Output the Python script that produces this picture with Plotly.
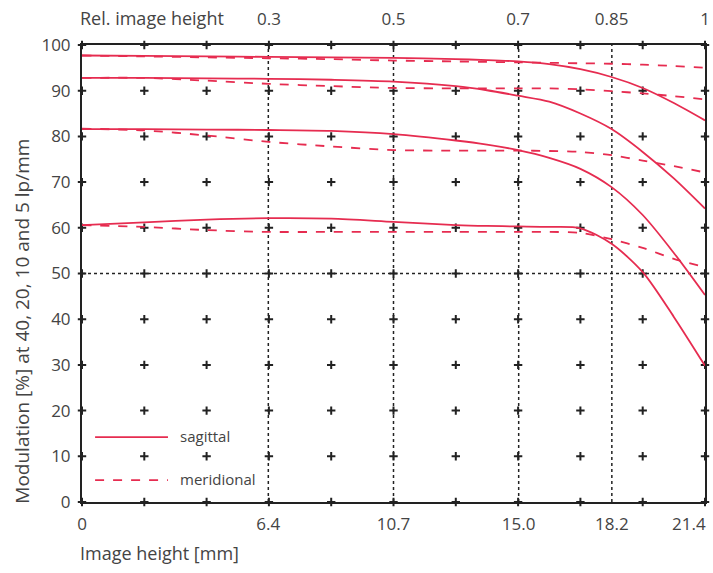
import plotly.graph_objects as go

# ---- data ----
image_height = [0, 2.14, 4.28, 6.42, 8.56, 10.7, 12.84, 13.91, 14.98, 16.05, 17.12, 18.19, 19.26, 20.33, 21.4]

sag_40 = [60.6, 61.2, 61.8, 62.1, 62.0, 61.3, 60.6, 60.4, 60.3, 60.2, 59.9, 56.5, 50.3, 40.5, 29.8]
mer_40 = [60.6, 60.2, 59.5, 59.1, 59.1, 59.1, 59.1, 59.1, 59.1, 59.1, 58.9, 57.5, 55.6, 53.2, 51.4]
sag_20 = [81.6, 81.6, 81.5, 81.4, 81.2, 80.5, 79.1, 78.2, 77.0, 75.3, 72.9, 68.9, 62.8, 54.5, 45.3]
mer_20 = [81.7, 81.3, 80.2, 78.8, 77.8, 77.0, 76.9, 76.9, 76.9, 76.8, 76.6, 75.9, 74.7, 73.5, 72.1]
sag_10 = [92.8, 92.8, 92.7, 92.6, 92.4, 92.0, 91.0, 90.1, 88.9, 87.6, 85.0, 81.6, 76.6, 70.8, 64.2]
mer_10 = [92.8, 92.8, 92.2, 91.5, 91.0, 90.6, 90.5, 90.5, 90.5, 90.5, 90.3, 89.9, 89.4, 88.8, 88.1]
sag_5 = [97.7, 97.6, 97.5, 97.4, 97.3, 97.2, 96.9, 96.7, 96.4, 95.8, 94.7, 93.0, 90.6, 87.3, 83.5]
mer_5 = [97.7, 97.5, 97.3, 97.1, 96.9, 96.6, 96.4, 96.3, 96.2, 96.1, 96.0, 95.9, 95.7, 95.4, 95.0]

bottom_tickvals = [0, 6.4, 10.7, 15.0, 18.2]
bottom_ticktext = ["0", "6.4", "10.7", "15.0", "18.2"]
last_bottom_label = "21.4"
top_tickvals = [6.42, 10.7, 14.98, 18.19, 21.4]
top_ticktext = ["0.3", "0.5", "0.7", "0.85", "1"]
y_tickvals = [0, 10, 20, 30, 40, 50, 60, 70, 80, 90, 100]
grid_x = [0, 2.14, 4.28, 6.42, 8.56, 10.7, 12.84, 14.98, 17.12, 19.26, 21.4]
grid_y = [0, 10, 20, 30, 40, 50, 60, 70, 80, 90, 100]
dotted_x = [6.4, 10.7, 15.0, 18.2]
dotted_y = [50]

RED = "#e62c50"
FONT = "Open Sans"
TXT = "#444444"

fig = go.Figure()

# grid "+" markers
gx, gy = [], []
for xv in grid_x:
    for yv in grid_y:
        gx.append(xv)
        gy.append(yv)
fig.add_trace(go.Scatter(x=gx, y=gy, mode="markers", cliponaxis=False,
                         marker=dict(symbol="cross-thin", size=6,
                                     line=dict(width=2, color="#222")),
                         showlegend=False, hoverinfo="skip"))

for s, m in [(sag_40, mer_40), (sag_20, mer_20), (sag_10, mer_10), (sag_5, mer_5)]:
    fig.add_trace(go.Scatter(x=image_height, y=m, mode="lines",
                             line=dict(color=RED, width=1.8, dash="dash", shape="spline", smoothing=0.8),
                             showlegend=False))
    fig.add_trace(go.Scatter(x=image_height, y=s, mode="lines",
                             line=dict(color=RED, width=1.8, shape="spline", smoothing=0.8),
                             showlegend=False))

# dummy trace to activate the top axis
fig.add_trace(go.Scatter(x=[0, 21.4], y=[None, None], xaxis="x2", showlegend=False, hoverinfo="skip"))

shapes = []
for xv in dotted_x:
    shapes.append(dict(type="line", xref="x", yref="y", x0=xv, x1=xv, y0=0, y1=100,
                       line=dict(color="#222", width=1.5, dash="dot"), layer="below"))
for yv in dotted_y:
    shapes.append(dict(type="line", xref="x", yref="y", x0=0, x1=21.4, y0=yv, y1=yv,
                       line=dict(color="#222", width=1.5, dash="dot"), layer="below"))

# legend (manual)
shapes.append(dict(type="line", xref="paper", yref="paper", x0=0.021, x1=0.138, y0=0.142, y1=0.142,
                   line=dict(color=RED, width=1.8)))
shapes.append(dict(type="line", xref="paper", yref="paper", x0=0.021, x1=0.138, y0=0.048, y1=0.048,
                   line=dict(color=RED, width=1.8, dash="dash")))

annotations = [
    dict(text="sagittal", xref="paper", yref="paper", x=0.154, y=0.145, xanchor="left", yanchor="middle",
         showarrow=False, font=dict(family=FONT, size=15, color=TXT)),
    dict(text="meridional", xref="paper", yref="paper", x=0.154, y=0.051, xanchor="left", yanchor="middle",
         showarrow=False, font=dict(family=FONT, size=15, color=TXT)),
    dict(text="Image height [mm]", xref="paper", yref="paper", x=-0.006, y=-0.112, xanchor="left",
         yanchor="middle", showarrow=False, font=dict(family=FONT, size=18, color=TXT)),
    dict(text="Rel. image height", xref="paper", yref="paper", x=-0.006, y=1.059, xanchor="left",
         yanchor="middle", showarrow=False, font=dict(family=FONT, size=18, color=TXT)),
    dict(text="Modulation [%] at 40, 20, 10 and 5 lp/mm", xref="paper", yref="paper", x=-0.096, y=0.395,
         xanchor="center", yanchor="middle", textangle=-90, showarrow=False,
         font=dict(family=FONT, size=19, color=TXT)),
    dict(text=last_bottom_label, xref="paper", yref="paper", x=1.005, y=-0.046, xanchor="right",
         yanchor="middle", showarrow=False, font=dict(family=FONT, size=17, color=TXT)),
]

fig.update_layout(
    width=713, height=573,
    margin=dict(l=82, r=8, t=45, b=71),
    paper_bgcolor="white", plot_bgcolor="white",
    font=dict(family=FONT, size=17, color=TXT),
    shapes=shapes, annotations=annotations,
    xaxis=dict(range=[0, 21.4], tickvals=bottom_tickvals, ticktext=bottom_ticktext,
               showgrid=False, zeroline=False, showline=True, linecolor="#222", linewidth=2,
               mirror=True, ticks="", ticklabelstandoff=6, automargin=False,
               ticklabeloverflow="allow"),
    xaxis2=dict(range=[0, 21.4], overlaying="x", side="top", tickvals=top_tickvals,
                ticktext=top_ticktext, showgrid=False, zeroline=False, showline=False, ticks="",
                ticklabelstandoff=16, automargin=False, ticklabeloverflow="allow"),
    yaxis=dict(range=[0, 100], tickvals=y_tickvals, showgrid=False, zeroline=False,
               showline=True, linecolor="#222", linewidth=2, mirror=True, ticks="",
               ticklabelstandoff=6, automargin=False),
)

fig.write_html("out.html", config={"displayModeBar": False},
               post_script="document.body.style.margin='0px';")
